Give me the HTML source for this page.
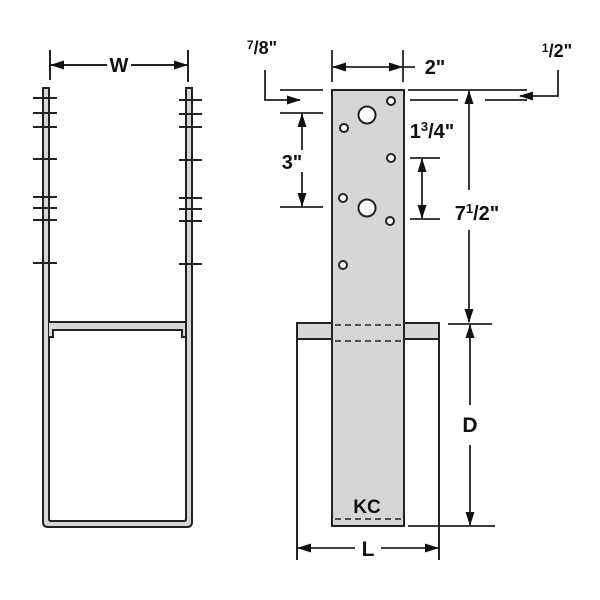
<!DOCTYPE html>
<html><head><style>body{margin:0;background:#fff}svg{display:block}</style></head><body>
<svg width="600" height="600" viewBox="0 0 600 600" xmlns="http://www.w3.org/2000/svg" font-family="Liberation Sans, sans-serif" font-weight="bold">
<defs>
<marker id="a" markerWidth="14" markerHeight="9" refX="13" refY="4.5" orient="auto" markerUnits="userSpaceOnUse"><path d="M0,0 L14,4.5 L0,9 z" fill="#111"/></marker>
</defs>
<g stroke="#222" stroke-width="2" fill="none">
<path d="M43,88 L49,88 L49,519 Q49,521 51,521 L184,521 Q186,521 186,519 L186,88 L192,88 L192,522 Q192,527 187,527 L48,527 Q43,527 43,522 Z" fill="#d6d6d6"/>
<path d="M49,322 L186,322 L186,337 L182,337 L182,330 L53,330 L53,337 L49,337" fill="#d6d6d6"/>
<path d="M33,98H57M33,113H57M33,127H57M33,159H57M33,197H57M33,208H57M33,220H57M33,263H57"/>
<path d="M179,100H202M179,114H202M179,127H202M179,160H202M179,198H202M179,209H202M179,221H202M179,264H202"/>
<path d="M50,50V80M188,50V82"/>
<path d="M107,65H51" marker-end="url(#a)"/>
<path d="M131,65H187" marker-end="url(#a)"/>
<path d="M297,339V560M439,339V560" />
<rect x="297" y="323" width="142" height="16" fill="#d6d6d6"/>
<rect x="332" y="90" width="72" height="436" fill="#d6d6d6"/>
<path d="M335,325H402M335,341H402M335,519H402" stroke-dasharray="6,4" stroke-width="1.6"/>
</g>
<g fill="#fff" stroke="#222" stroke-width="2">
<circle cx="367" cy="115" r="8.5"/><circle cx="367" cy="208" r="8.5"/>
<circle cx="391" cy="101" r="4"/><circle cx="344" cy="128" r="4"/><circle cx="391" cy="158" r="4"/>
<circle cx="343" cy="198" r="4"/><circle cx="390" cy="221" r="4"/><circle cx="343" cy="265" r="4"/>
</g>
<g stroke="#222" stroke-width="1.8" fill="none">
<path d="M332,50V82M403,50V82M403,67H415"/>
<path d="M368,67H333" marker-end="url(#a)"/><path d="M368,67H402" marker-end="url(#a)"/>
<path d="M280,90H323M280,113H323"/>
<path d="M265,70V100H300" marker-end="url(#a)"/>
<path d="M302,150V114" marker-end="url(#a)"/>
<path d="M280,207H323"/>
<path d="M302,172V206" marker-end="url(#a)"/>
<path d="M410,158H440M410,219H440"/>
<path d="M422,188V159" marker-end="url(#a)"/><path d="M422,188V218" marker-end="url(#a)"/>
<path d="M408,90H527M410,100H458M485,100H527"/>
<path d="M558,70V96H520" marker-end="url(#a)"/>
<path d="M469,190V91" marker-end="url(#a)"/><path d="M469,230V322" marker-end="url(#a)"/>
<path d="M448,324H492M408,526H495"/>
<path d="M470,405V325" marker-end="url(#a)"/><path d="M470,445V525" marker-end="url(#a)"/>
<path d="M355,548H298" marker-end="url(#a)"/><path d="M381,548H438" marker-end="url(#a)"/>
</g>
<g fill="#111" font-size="20" text-anchor="middle">
<text x="119" y="72">W</text>
<text x="435" y="74">2"</text>
<text x="292" y="169">3"</text>
<text x="470" y="432" font-size="21">D</text>
<text x="368" y="556" font-size="21">L</text>
<text x="367" y="513" font-size="19">KC</text>
<text x="432" y="138">1<tspan font-size="13" dy="-7">3</tspan><tspan dy="7">/4"</tspan></text>
<text x="477" y="220">7<tspan font-size="13" dy="-7">1</tspan><tspan dy="7">/2"</tspan></text>
<text x="262" y="54" font-size="18"><tspan font-size="12" dy="-5">7</tspan><tspan dy="5">/8"</tspan></text>
<text x="557" y="57" font-size="18"><tspan font-size="12" dy="-5">1</tspan><tspan dy="5">/2"</tspan></text>
</g>
</svg>
</body></html>
